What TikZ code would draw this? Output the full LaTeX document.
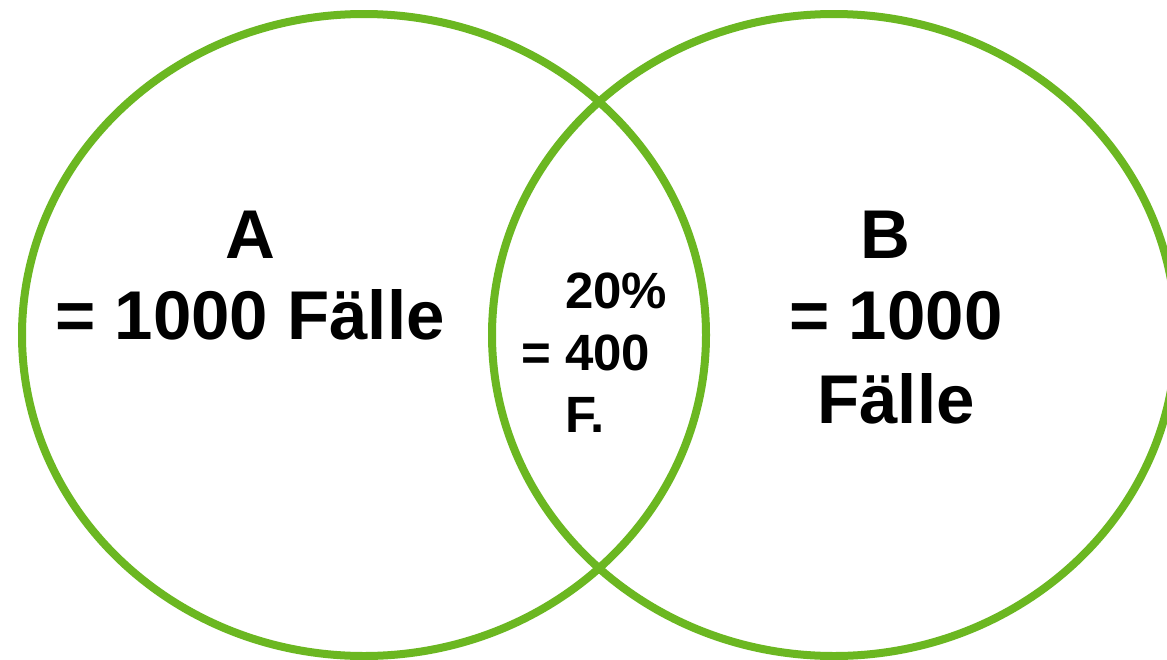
\documentclass[tikz,border=0pt]{standalone}
\usepackage{fontspec}
\setmainfont{Liberation Sans}
\usetikzlibrary{shapes.geometric}
\definecolor{venngreen}{RGB}{107,183,33}
\tikzset{
  set/.style={ellipse, draw=venngreen, line width=8pt, inner sep=0pt, outer sep=0pt,
              minimum width=684pt, minimum height=642pt},
  big/.style={font=\bfseries\fontsize{69pt}{80pt}\selectfont, inner sep=0pt, anchor=base},
  small/.style={font=\bfseries\fontsize{51pt}{62pt}\selectfont, inner sep=0pt, anchor=base west}
}
\begin{document}
\begin{tikzpicture}[x=1pt,y=-1pt]
\useasboundingbox (0,0) rectangle (1167,659);
\fill[white] (0,0) rectangle (1167,659);
\node[set] (setA) at (364,335) {};
\node[set] (setB) at (834,335) {};
\node[big] (a1) at (250,258) {A};
\node[big] (a2) at (250,339) {= 1000 Fälle};
\node[big] (b1) at (885,258) {B};
\node[big] (b2) at (896,339) {= 1000};
\node[big] (b3) at (896,423) {Fälle};
\node[small] (m1) at (565,308) {20\%};
\node[small] (m2) at (565,370) {\llap{= }400};
\node[small] (m3) at (565,432) {F.};
\end{tikzpicture}
\end{document}
